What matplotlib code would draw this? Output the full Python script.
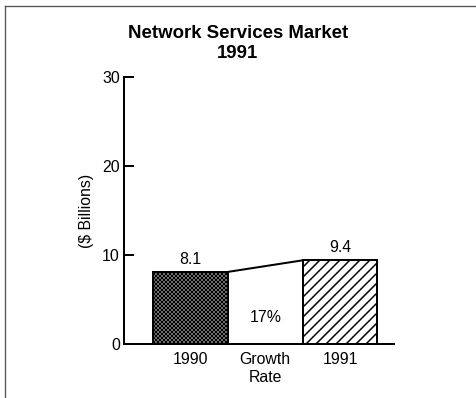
import matplotlib
matplotlib.use("Agg")
import matplotlib.pyplot as plt
from matplotlib.lines import Line2D

# market size, $ billions
years = ["1990", "1991"]
values = [8.1, 9.4]
growth_label = "17%"
tick_labels = ["1990", "Growth\nRate", "1991"]
y_ticks = [0, 10, 20, 30]

plt.rcParams["font.family"] = ["Liberation Sans", "DejaVu Sans"]
plt.rcParams["hatch.linewidth"] = 0.9

DPI = 120
FS = 9.5
fig = plt.figure(figsize=(476 / DPI, 398 / DPI), dpi=DPI)
ax = fig.add_axes([0.2605, 0.1357, 0.567, 0.671])

bar_w = 1.0
xpos = [0, 2]
hatches = ["xxxxxxxxxx", "////"]
for x, v, h in zip(xpos, values, hatches):
    ax.bar(x, v, width=bar_w, facecolor="white", edgecolor="black",
           linewidth=1.2, hatch=h, zorder=2)
    ax.annotate(f"{v:.1f}", (x, v), xytext=(0, 3), textcoords="offset points",
                ha="center", va="bottom", fontsize=FS)

# connector between the two bar tops
ax.plot([xpos[0] + bar_w / 2, xpos[1] - bar_w / 2], values,
        color="black", linewidth=1.2, zorder=3)
ax.text(1, 3.0, growth_label, ha="center", va="center", fontsize=FS)

ax.set_xlim(-0.89, 2.72)
ax.set_ylim(0, 30)
ax.set_xticks([0, 1, 2])
ax.set_xticklabels(tick_labels, fontsize=FS, linespacing=1.2)
ax.set_yticks(y_ticks)
ax.set_yticklabels([str(t) for t in y_ticks], fontsize=FS)
ax.tick_params(axis="x", length=0, pad=5)
ax.tick_params(axis="y", direction="in", length=6, width=1.2, pad=2.4)
ax.set_ylabel("($ Billions)", fontsize=FS, labelpad=5)

for side in ["top", "right"]:
    ax.spines[side].set_visible(False)
for side in ["left", "bottom"]:
    ax.spines[side].set_linewidth(1.2)

fig.text(0.5, 0.89, "Network Services Market\n1991", ha="center", va="center",
         fontsize=11.2, fontweight="bold", linespacing=1.2)

# frame lines along the top and left edge
fig.add_artist(Line2D([5 / 476, 1], [1 - 6 / 398] * 2, color="#555555", linewidth=0.8))
fig.add_artist(Line2D([5 / 476] * 2, [0, 1 - 6 / 398], color="#555555", linewidth=0.8))

fig.savefig("out.png", dpi=DPI, facecolor="white")
